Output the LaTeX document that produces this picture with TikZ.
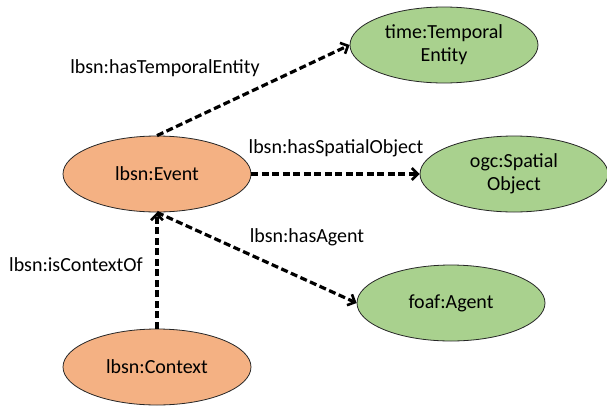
\documentclass[tikz,border=0pt]{standalone}
\usepackage{fontspec}
\setmainfont{Carlito}
\usepackage{tikz}
\usetikzlibrary{arrows.meta, positioning, shapes.geometric}
\definecolor{eventOrange}{RGB}{244,177,131}
\definecolor{classGreen}{RGB}{169,209,142}
\begin{document}
\begin{tikzpicture}[auto, node distance=2cm, >={Straight Barb[length=6pt,width=12pt,line width=2.6pt]}, font=\fontsize{20}{23}\selectfont]
        % Estilos para las clases y las propiedades
        \tikzstyle{lbsnclass} = [draw=black!85, line width=0.8pt, ellipse, fill=eventOrange, minimum width=188pt, minimum height=76pt, inner sep=0pt, align=center]
        \tikzstyle{extclass} = [lbsnclass, fill=classGreen]
        \tikzstyle{property} = [draw, ->, line width=3.2pt, dash pattern=on 7pt off 3.5pt]
        \tikzstyle{proplabel} = [inner sep=0pt, align=center]
       % Nodes
       \node at (0,0) [lbsnclass] (event) {lbsn:Event}; % Event class
       \useasboundingbox (-157pt,174pt) rectangle (450pt,-231pt); % Margins
       \node [extclass, on grid, above right=129pt and 287pt of event] (temporal) {time:Temporal\\Entity}; % Temporal entity
       \node [extclass, on grid, right=357pt of event] (spatial) {ogc:Spatial\\Object}; % Spatial object
       \node [extclass, on grid, below right=129pt and 294pt of event] (agent) {foaf:Agent}; % Agent
       \node [lbsnclass, on grid, below=193pt of event] (context) {lbsn:Context}; % Context class
       \node [proplabel, on grid, above=106pt of event, xshift=8pt] (lblTemporal) {lbsn:hasTemporalEntity};
       \node [proplabel, on grid, above=26pt of event, xshift=179pt] (lblSpatial) {lbsn:hasSpatialObject};
       \node [proplabel, on grid, below=63pt of event, xshift=150pt] (lblAgent) {lbsn:hasAgent};
       \node [proplabel, on grid, below=91pt of event, xshift=-81pt] (lblContext) {lbsn:isContextOf};
       % Connections
       \draw[property] (event.north) -- (temporal.west); % Event to temporal entity
       \draw[property] (event.east) -- (spatial.west); % Event to spatial object
       \draw[property] (event.south) -- (agent.west); % Event to agent
       \draw[property] (context.north) -- (event.south); % Context to event

      \end{tikzpicture}
\end{document}
